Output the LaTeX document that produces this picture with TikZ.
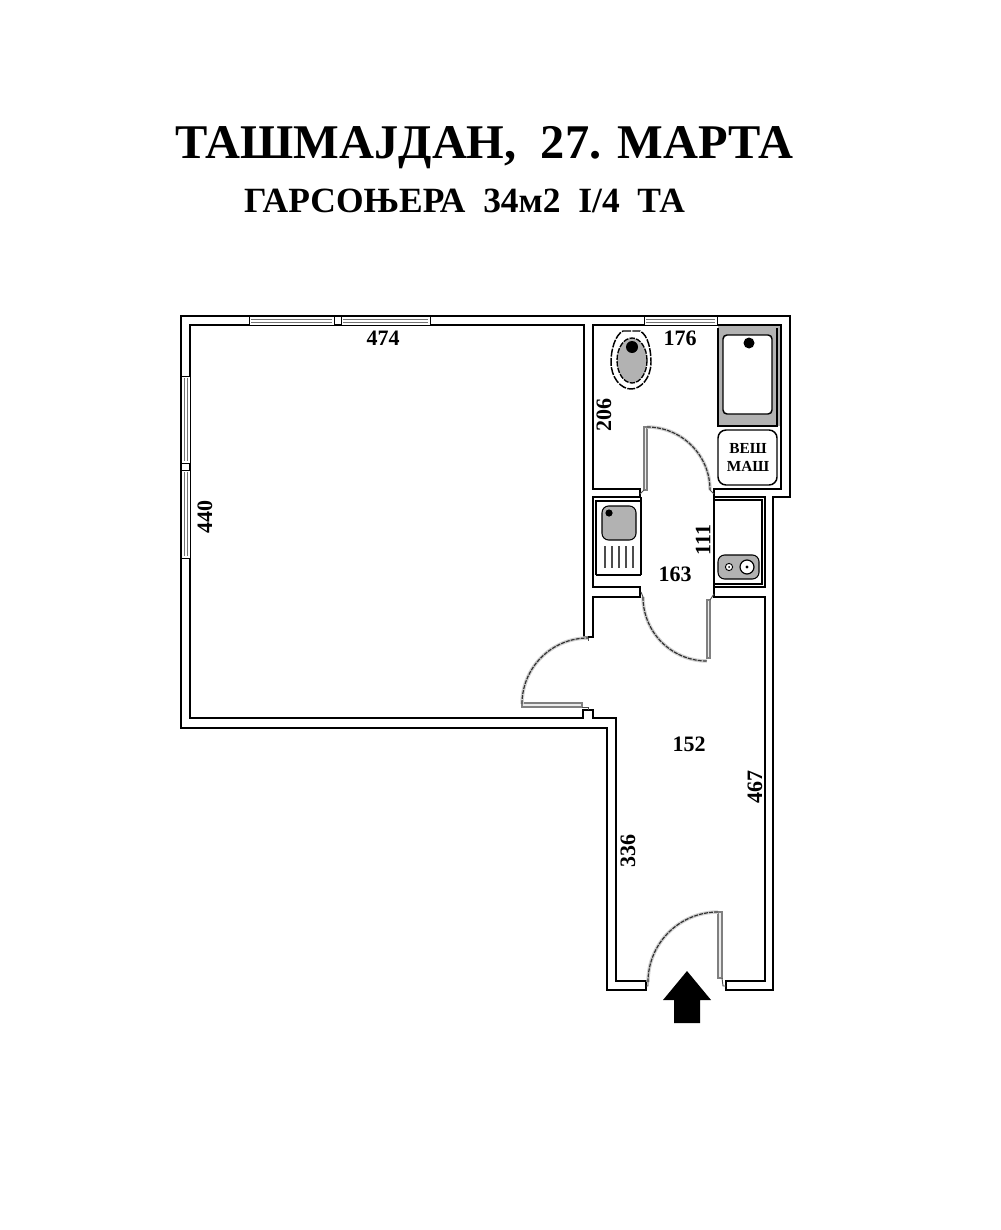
\documentclass[tikz,border=0pt]{standalone}
\usepackage{fontspec}
\setmainfont{Liberation Serif}
\begin{document}
\begin{tikzpicture}[x=0.75pt,y=-0.75pt,
  wall/.style={draw=black,line width=1.9pt,line join=miter},
  winframe/.style={draw=black,line width=0.7pt,fill=white},
  winline/.style={draw=black!55,line width=0.6pt},
  halo/.style={draw=black!18,line width=2.6pt},
  swing/.style={draw=black!80,line width=0.9pt,dash pattern=on 3pt off 0.8pt},
  leaf/.style={draw=black!50,line width=0.8pt,fill=black!8},
  stem/.style={draw=black!70,line width=0.7pt},
  grayfix/.style={draw=black,line width=0.8pt,fill=black!30},
  whitefix/.style={draw=black,line width=1.1pt,fill=white},
  dim/.style={font=\fontsize{16.5}{16.5}\selectfont\bfseries,inner sep=0pt},
  machine/.style={font=\fontsize{11.5}{13}\selectfont\bfseries,inner sep=0pt,align=center}]
\useasboundingbox[fill=white] (0,0) rectangle (1000,1230);

% titles
\node[inner sep=0pt,font=\fontsize{36.3}{40}\selectfont\bfseries] (title) at (484.5,148) {ТАШМАЈДАН,\ \ 27. МАРТА};
\node[inner sep=0pt,font=\fontsize{26.6}{28}\selectfont\bfseries] (subtitle) at (464.5,201) {ГАРСОЊЕРА\ \ 34м2\ \ I/4\ \ ТА};

% walls
\draw[wall] (181,316) -- (790,316) -- (790,497) -- (773,497) -- (773,990) -- (726,990) -- (726,981)
  -- (765,981) -- (765,597) -- (714,597) -- (714,587) -- (765,587) -- (765,497) -- (714,497) -- (714,489)
  -- (781,489) -- (781,325) -- (593,325) -- (593,489) -- (640,489) -- (640,497) -- (593,497) -- (593,587)
  -- (640,587) -- (640,597) -- (593,597) -- (593,637) -- (584,637) -- (584,325) -- (190,325) -- (190,718)
  -- (583,718) -- (583,710) -- (593,710) -- (593,718) -- (616,718) -- (616,981) -- (646,981) -- (646,990)
  -- (607,990) -- (607,728) -- (181,728) -- cycle;

% windows
\foreach \a/\b in {249/334,341/430,644/717}{
  \draw[winframe] (\a,316) rectangle (\b,325);
  \draw[winline] (\a+2,319) -- (\b-2,319) (\a+2,322) -- (\b-2,322);
}
\foreach \a/\b in {376/463,470/558}{
  \draw[winframe] (181,\a) rectangle (190,\b);
  \draw[winline] (184,\a+2) -- (184,\b-2) (187,\a+2) -- (187,\b-2);
}

% bathtub
\fill[black!30] (718,326) rectangle (780,426);
\draw[line width=1pt] (718,328) -- (718,426) -- (777,426) -- (777,328);
\draw[whitefix,rounded corners=3pt] (723,335) rectangle (772,414);
\fill (749,343) circle[radius=5.5];

% washing machine
\draw[whitefix,rounded corners=6pt] (718,430) rectangle (777,485);
\node[machine] (wm) at (748,457.5) {ВЕШ\\МАШ};

% toilet
\draw[draw=black,line width=1.1pt,dash pattern=on 6pt off 1pt,fill=white]
  (623,331) -- (640,331) .. controls (648,335) and (651,350) .. (651,362)
  .. controls (651,378) and (641,389) .. (631,389)
  .. controls (621,389) and (611,378) .. (611,362)
  .. controls (611,350) and (615,335) .. (623,331) -- cycle;
\draw[draw=black,line width=1pt,dash pattern=on 4pt off 1pt,fill=black!30] (632,360.5) ellipse[x radius=15,y radius=22.5];
\fill (632,347) circle[radius=6];

% kitchen sink
\draw[line width=0.9pt] (596,575) -- (596,501) -- (641,501);
\draw[line width=0.9pt] (596,575) -- (641,575);
\draw[line width=1.1pt] (641,497) -- (641,575);
\draw[grayfix,rounded corners=5pt] (602,506) rectangle (636,540);
\fill (609,513) circle[radius=3.6];
\foreach \r in {605,612,619,626,633}{\draw[draw=black!70,line width=0.9pt] (\r,546) -- (\r,568);}

% kitchen stove counter
\draw[draw=black,line width=0.9pt] (714,500) -- (762,500) -- (762,584) -- (714,584);
\draw[line width=1.1pt] (714,497) -- (714,587);
\draw[grayfix,rounded corners=5pt] (718,555) rectangle (759,579);
\draw[line width=0.7pt,fill=white] (729,567) circle[radius=3.6];
\fill (729,567) circle[radius=1];
\draw[line width=0.9pt,fill=white] (747,567) circle[radius=7];
\fill (747,567) circle[radius=1.7];

% bathroom door
\draw[leaf] (644,427) rectangle (647,490);
\draw[halo] (647,427) arc[start angle=-90,end angle=0,radius=63];
\draw[swing] (647,427) arc[start angle=-90,end angle=0,radius=63];
\draw[stem] (644,490) -- (640,494) (710,490) -- (714,494);

% kitchen door
\draw[leaf] (707,600) rectangle (710,658);
\draw[halo] (643,597) arc[start angle=180,end angle=90,radius=64];
\draw[swing] (643,597) arc[start angle=180,end angle=90,radius=64];
\draw[stem] (641,592) -- (643,597) (710,600) -- (714,594);

% room door
\draw[leaf] (522,703) rectangle (582,707);
\draw[halo] (522,704) arc[start angle=180,end angle=270,radius=66];
\draw[swing] (522,704) arc[start angle=180,end angle=270,radius=66];
\draw[stem] (588,638) -- (588,641) (582,707) -- (588,707) -- (588,710);

% entrance door
\draw[leaf] (718,912) rectangle (722,978);
\draw[halo] (718,912) arc[start angle=-90,end angle=-180,radius=70];
\draw[swing] (718,912) arc[start angle=-90,end angle=-180,radius=70];
\draw[stem] (648,982) -- (648,986) -- (646,986) (722,978) -- (723,986) -- (726,986);

% entry arrow
\fill (687,971) -- (711,1000) -- (700,1000) -- (700,1023) -- (674,1023) -- (674,1000) -- (663,1000) -- cycle;

% dimensions
\node[dim] (d474) at (383,338) {474};
\node[dim] (d176) at (680,338) {176};
\node[dim,rotate=90] (d206) at (604,415) {206};
\node[dim,rotate=90] (d440) at (205,517) {440};
\node[dim,rotate=90] (d111) at (703,540) {111};
\node[dim] (d163) at (675,574) {163};
\node[dim] (d152) at (689,744) {152};
\node[dim,rotate=90] (d467) at (755,787) {467};
\node[dim,rotate=90] (d336) at (628,851) {336};
\end{tikzpicture}
\end{document}
